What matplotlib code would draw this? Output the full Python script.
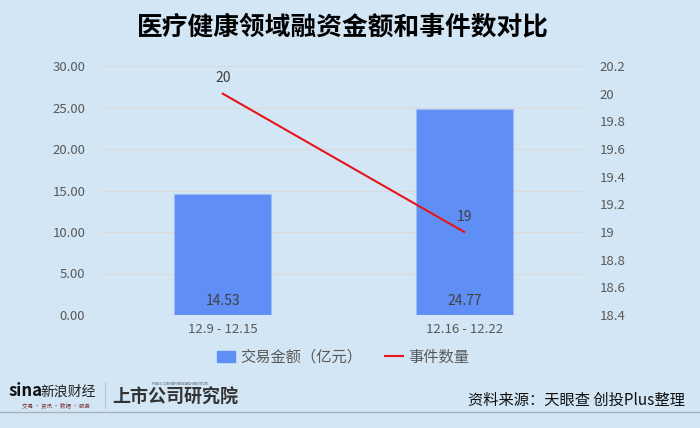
import matplotlib.pyplot as plt
from matplotlib.lines import Line2D
from matplotlib.patches import Patch

plt.rcParams['font.family'] = ['Noto Sans CJK SC', 'DejaVu Sans']

categories = ['12.9 - 12.15', '12.16 - 12.22']
amounts = [14.53, 24.77]
events = [20, 19]
left_ticks = [0, 5, 10, 15, 20, 25, 30]
right_ticks = [18.4, 18.6, 18.8, 19, 19.2, 19.4, 19.6, 19.8, 20, 20.2]

BG = '#d3e6f5'
BAR = '#5f8ff5'
LINE = '#e8141c'
TEXT = '#595959'

fig = plt.figure(figsize=(7, 4.28), dpi=100, facecolor=BG)
ax = fig.add_axes([102 / 700, 1 - 315 / 428, 483 / 700, 249 / 428])
ax.set_facecolor(BG)
ax2 = ax.twinx()

x = list(range(len(categories)))
ax.bar(x, amounts, width=0.4, color=BAR, edgecolor='#9dbcf7', linewidth=0.8,
       zorder=2)
for xi, v in zip(x, amounts):
    ax.text(xi, 0.9, '{:.2f}'.format(v), ha='center', va='bottom',
            fontsize=10, color='#404040', zorder=3)
ax.set_xlim(-0.5, 1.5)
ax.set_ylim(0, 30)
ax.set_yticks(left_ticks)
ax.set_yticklabels(['{:.2f}'.format(t) for t in left_ticks])
ax.set_xticks(x)
ax.set_xticklabels(categories)
ax.grid(axis='y', color='#dadada', linewidth=0.8, zorder=0)
ax.set_axisbelow(True)
ax.tick_params(axis='both', length=0, labelsize=9.5, labelcolor=TEXT)
ax.tick_params(axis='y', pad=12)
ax.tick_params(axis='x', pad=6)
for s in ax.spines.values():
    s.set_visible(False)
ax.axhline(0, color='#d0d0d0', linewidth=0.8, zorder=1)

ax2.plot(x, events, color=LINE, linewidth=1.5, zorder=4)
ax2.set_ylim(18.4, 20.2)
ax2.set_yticks(right_ticks)
ax2.set_yticklabels(['{:g}'.format(t) for t in right_ticks])
ax2.tick_params(axis='y', length=0, labelsize=9.5, labelcolor=TEXT, pad=10.5)
for s in ax2.spines.values():
    s.set_visible(False)
for xi, v in zip(x, events):
    ax2.text(xi, v + 0.06, str(v), ha='center', va='bottom', fontsize=10,
             color='#404040')

fig.text(0.49, 1 - 27 / 428, '医疗健康领域融资金额和事件数对比', ha='center',
         va='center', fontsize=18.5, fontweight='heavy', color='black')

handles = [Patch(facecolor=BAR, edgecolor=BAR),
           Line2D([], [], color=LINE, linewidth=1.5)]
fig.legend(handles, ['交易金额（亿元）', '事件数量'], loc='center',
           bbox_to_anchor=(0.49, 1 - 357 / 428), ncol=2, frameon=False,
           fontsize=11, labelcolor=TEXT, handlelength=1.2, handleheight=0.7,
           handletextpad=0.3, columnspacing=1.5)

# footer
fig.add_artist(Line2D([0, 1], [1 - 412 / 428] * 2, color='#a9b3bd',
                      linewidth=1.0))
fig.add_artist(Line2D([105 / 700] * 2, [1 - 382 / 428, 1 - 408 / 428],
                      color='#b0b8c0', linewidth=0.6))
fig.text(9 / 700, 1 - 391 / 428, 'sina', fontsize=12, fontweight='bold',
         style='italic', color='#111111', va='center', ha='left')
fig.text(40 / 700, 1 - 392 / 428, '新浪财经', fontsize=10, style='italic',
         color='#222222', va='center', ha='left')
fig.text(22 / 700, 1 - 405 / 428, '交易 · 资讯 · 数据 · 服务', fontsize=4,
         color='#7a3030', va='center', ha='left')
fig.text(112 / 700, 1 - 397 / 428, '上市公司研究院', fontsize=13,
         fontweight='heavy', style='italic', color='#333333', va='center',
         ha='left')
fig.text(152 / 700, 1 - 384 / 428, 'PUBLIC COMPANY RESEARCH INSTITUTE',
         fontsize=2.2, color='#444444', va='center', ha='left')
fig.text(685 / 700, 1 - 400 / 428, '资料来源：天眼查 创投Plus整理',
         fontsize=11, color='#111111', va='center', ha='right')

fig.savefig('out.png', dpi=100, facecolor=BG)
